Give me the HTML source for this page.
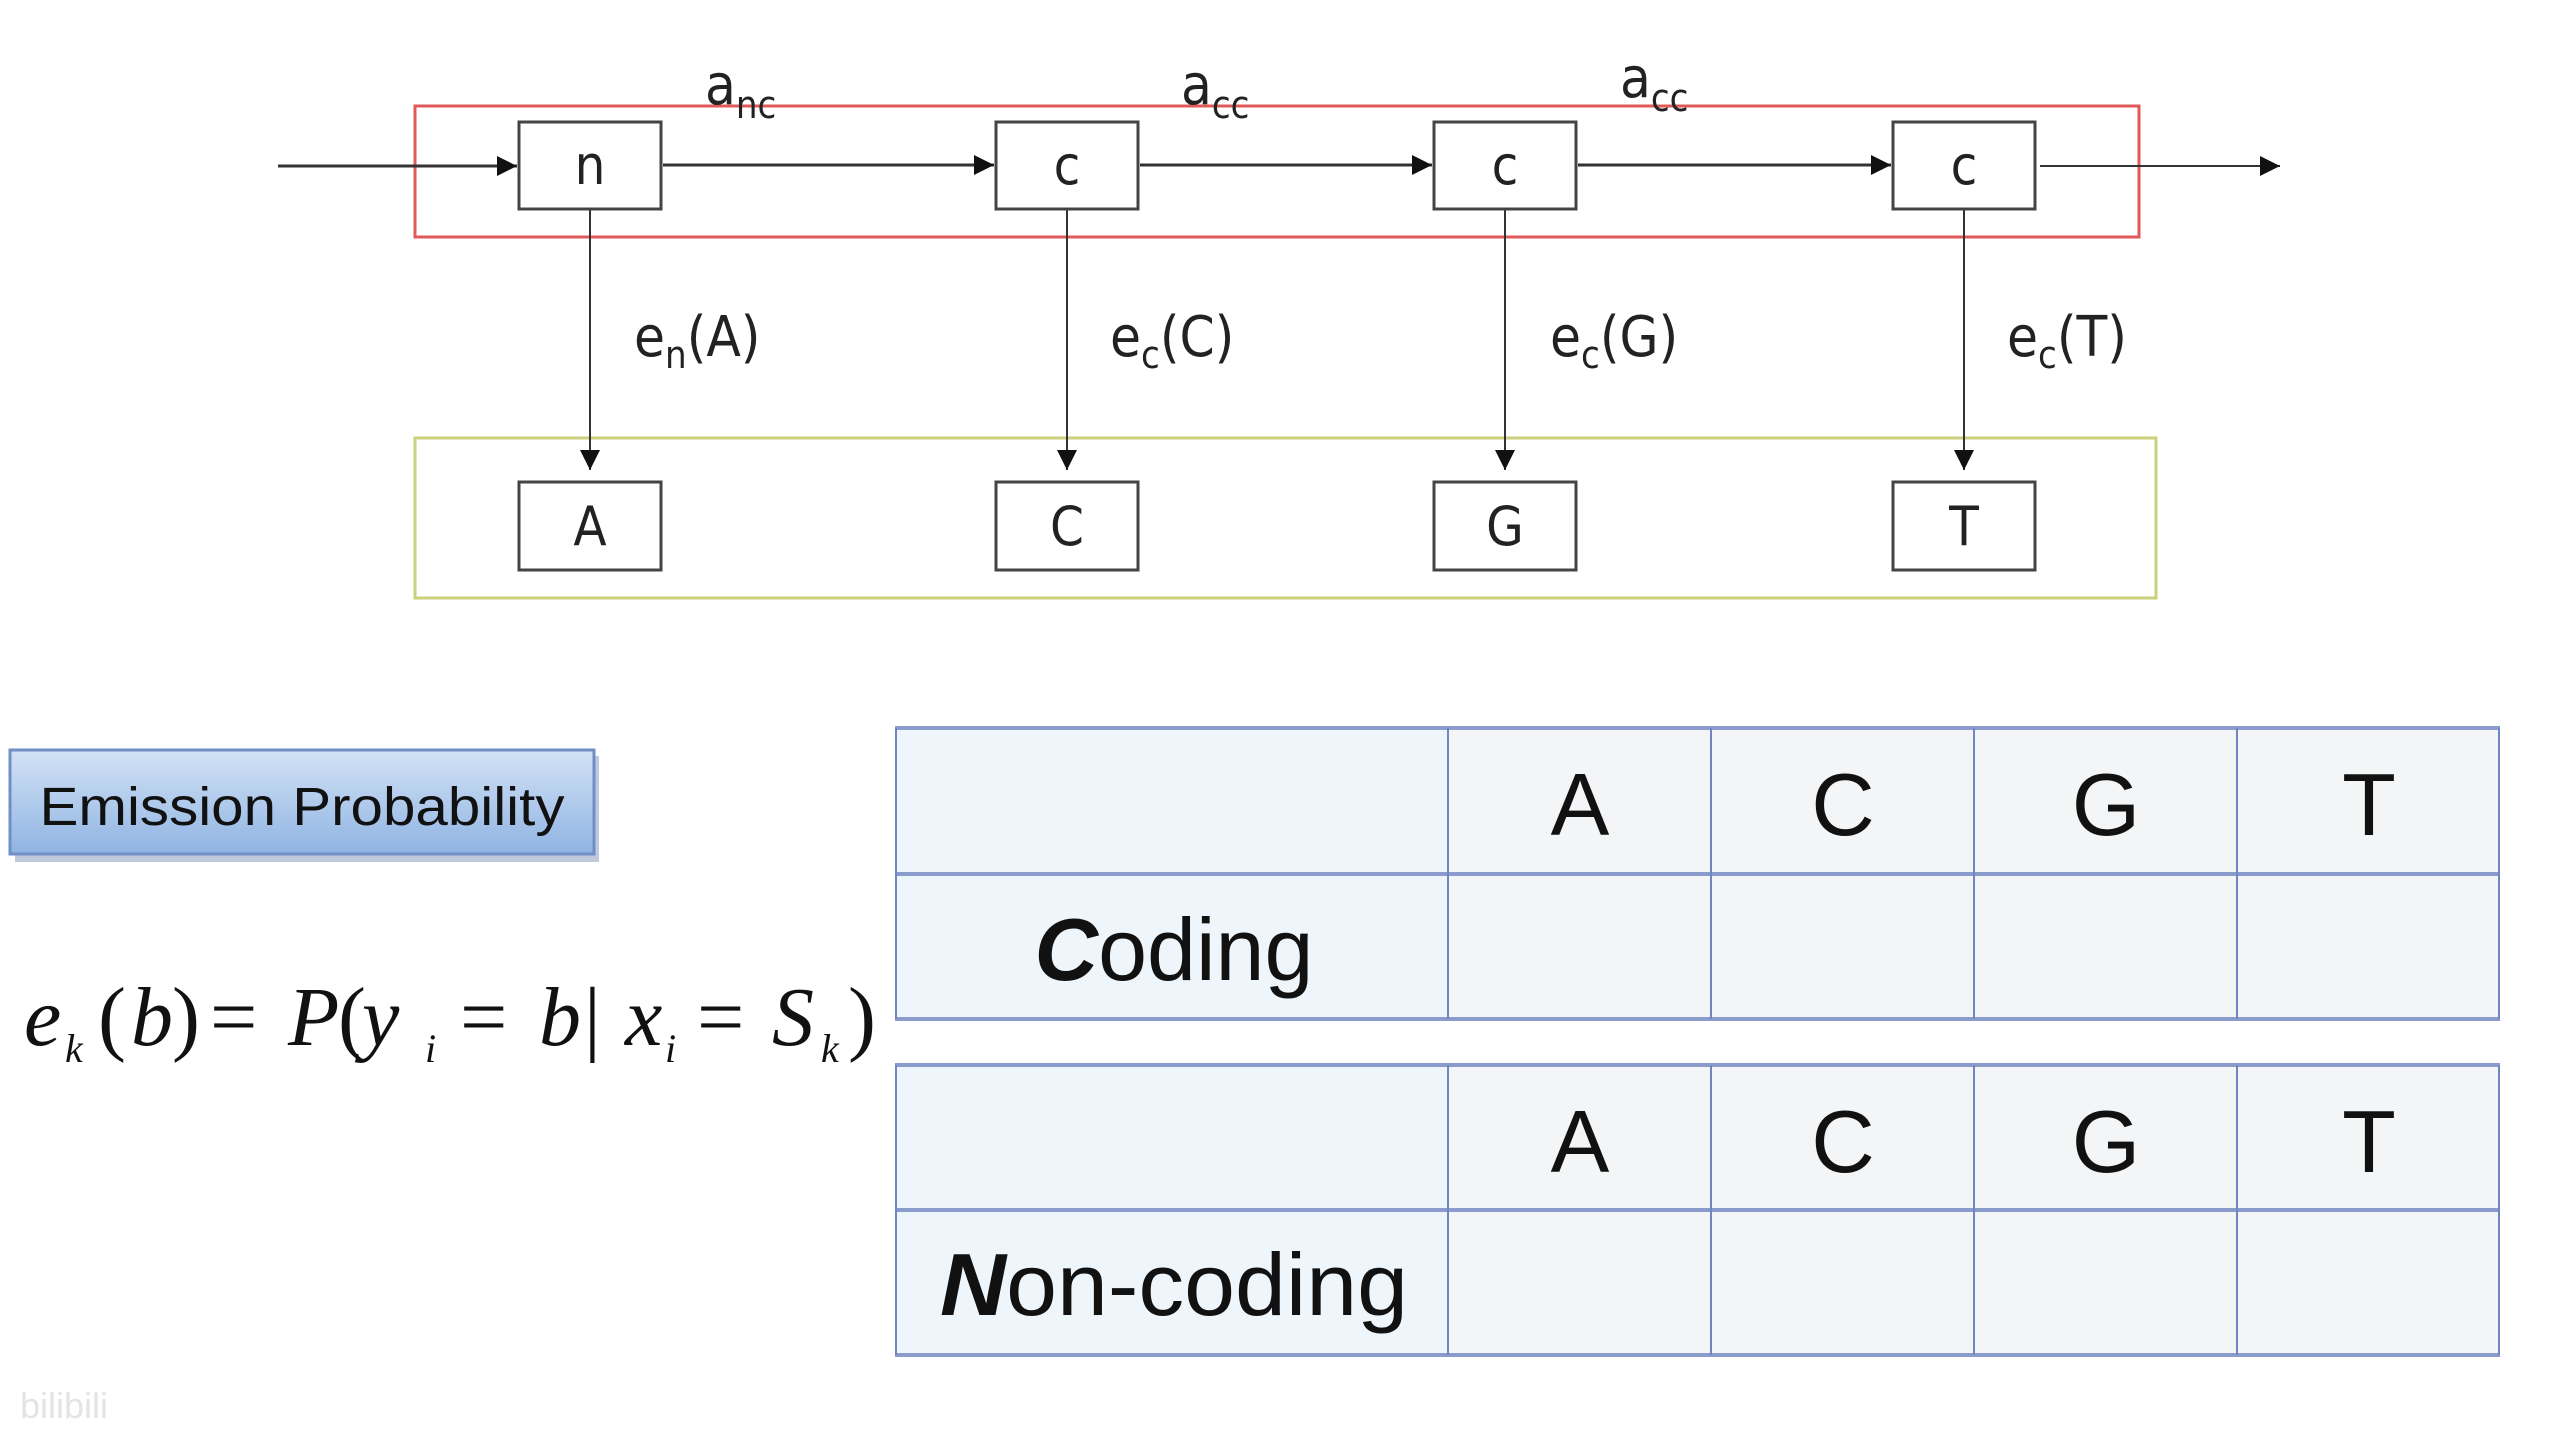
<!DOCTYPE html>
<html><head><meta charset="utf-8"><style>
html,body{margin:0;padding:0;background:#fff;}
svg{display:block}
</style></head><body>
<svg width="2560" height="1440" viewBox="0 0 2560 1440" xmlns="http://www.w3.org/2000/svg">
<defs>
<marker id="ar" viewBox="0 0 10 10" refX="10" refY="5" markerWidth="8" markerHeight="8" markerUnits="userSpaceOnUse" orient="auto">
<path d="M0,0 L10,5 L0,10 z" fill="#111"/></marker>
<marker id="ar2" viewBox="0 0 10 10" refX="10" refY="5" markerWidth="20" markerHeight="20" markerUnits="userSpaceOnUse" orient="auto">
<path d="M0,0 L10,5 L0,10 z" fill="#111"/></marker>
<linearGradient id="btn" x1="0" y1="0" x2="0" y2="1">
<stop offset="0" stop-color="#d3e2f5"/><stop offset="1" stop-color="#8fb4e3"/></linearGradient>
</defs>
<!-- red & yellow boxes -->
<rect x="415" y="106" width="1724" height="131" fill="none" stroke="#e05a5a" stroke-width="3"/>
<rect x="415" y="438" width="1741" height="160" fill="none" stroke="#c9d27a" stroke-width="3"/>
<!-- horizontal arrows -->
<g stroke="#333" stroke-width="3" fill="none">
<line x1="278" y1="166" x2="517" y2="166" marker-end="url(#ar2)"/>
<line x1="663" y1="165" x2="994" y2="165" marker-end="url(#ar2)"/>
<line x1="1140" y1="165" x2="1432" y2="165" marker-end="url(#ar2)"/>
<line x1="1578" y1="165" x2="1891" y2="165" marker-end="url(#ar2)"/>
<line x1="2040" y1="166" x2="2280" y2="166" stroke-width="2" marker-end="url(#ar2)"/>
</g>
<!-- vertical arrows -->
<g stroke="#333" stroke-width="2">
<line x1="590" y1="209" x2="590" y2="470" marker-end="url(#ar2)"/>
<line x1="1067" y1="209" x2="1067" y2="470" marker-end="url(#ar2)"/>
<line x1="1505" y1="209" x2="1505" y2="470" marker-end="url(#ar2)"/>
<line x1="1964" y1="209" x2="1964" y2="470" marker-end="url(#ar2)"/>
</g>
<!-- nodes -->
<g fill="#fff" stroke="#444" stroke-width="3">
<rect x="519" y="122" width="142" height="87"/>
<rect x="996" y="122" width="142" height="87"/>
<rect x="1434" y="122" width="142" height="87"/>
<rect x="1893" y="122" width="142" height="87"/>
<rect x="519" y="482" width="142" height="88"/>
<rect x="996" y="482" width="142" height="88"/>
<rect x="1434" y="482" width="142" height="88"/>
<rect x="1893" y="482" width="142" height="88"/>
</g>
<g font-family="DejaVu Sans Condensed, DejaVu Sans, sans-serif" font-size="54" fill="#222" text-anchor="middle">
<text x="590" y="184">n</text><text x="1067" y="184">c</text><text x="1505" y="184">c</text><text x="1964" y="184">c</text>
<text x="590" y="545">A</text><text x="1067" y="545">C</text><text x="1505" y="545">G</text><text x="1964" y="545">T</text>
</g>
<g font-family="DejaVu Sans Condensed, DejaVu Sans, sans-serif" font-size="56" fill="#222">
<text x="705" y="104">a<tspan font-size="38" dy="14">nc</tspan></text>
<text x="1181" y="104">a<tspan font-size="38" dy="14">cc</tspan></text>
<text x="1620" y="97">a<tspan font-size="38" dy="14">cc</tspan></text>
<text x="634" y="356">e<tspan font-size="38" dy="12">n</tspan><tspan dy="-12">(A)</tspan></text>
<text x="1110" y="356">e<tspan font-size="38" dy="12">c</tspan><tspan dy="-12">(C)</tspan></text>
<text x="1550" y="356">e<tspan font-size="38" dy="12">c</tspan><tspan dy="-12">(G)</tspan></text>
<text x="2007" y="356">e<tspan font-size="38" dy="12">c</tspan><tspan dy="-12">(T)</tspan></text>
</g>
<!-- button -->
<rect x="12" y="751" width="584" height="106" fill="#7f94b8" opacity="0.5" transform="translate(3,5)"/>
<rect x="10" y="750" width="584" height="104" fill="url(#btn)" stroke="#6f8fc6" stroke-width="3"/>
<text x="302" y="825" text-anchor="middle" font-family="Liberation Sans, sans-serif" font-size="54" fill="#111" textLength="525" lengthAdjust="spacingAndGlyphs">Emission Probability</text>
<!-- formula -->
<g font-family="Liberation Serif, serif" font-size="84" font-style="italic" fill="#111">
<text x="24" y="1045">e</text>
<text x="65" y="1062" font-size="40">k</text>
<text x="98" y="1045" font-style="normal">(</text>
<text x="131" y="1045">b</text>
<text x="172" y="1045" font-style="normal">)</text>
<text x="210" y="1045" font-style="normal">=</text>
<text x="288" y="1045">P</text>
<text x="338" y="1045" font-style="normal">(</text>
<text x="362" y="1045">y</text>
<text x="425" y="1062" font-size="40">i</text>
<text x="460" y="1045" font-style="normal">=</text>
<text x="539" y="1045">b</text>
<text x="584" y="1045" font-style="normal">|</text>
<text x="625" y="1045">x</text>
<text x="665" y="1062" font-size="40">i</text>
<text x="697" y="1045" font-style="normal">=</text>
<text x="772" y="1045">S</text>
<text x="821" y="1062" font-size="40">k</text>
<text x="848" y="1045" font-style="normal">)</text>
</g>
<!-- tables -->
<g>
<rect x="895" y="728" width="553" height="291" fill="#eef6fb"/>
<rect x="1448" y="728" width="1052" height="291" fill="#f3f5f6"/>
<rect x="895" y="1065" width="553" height="290" fill="#eef6fb"/>
<rect x="1448" y="1065" width="1052" height="290" fill="#f3f5f6"/>
</g>
<g stroke="#8a9ccc" stroke-width="4">
<line x1="895" y1="728" x2="2500" y2="728"/><line x1="895" y1="874" x2="2500" y2="874"/><line x1="895" y1="1019" x2="2500" y2="1019"/>
<line x1="895" y1="1065" x2="2500" y2="1065"/><line x1="895" y1="1210" x2="2500" y2="1210"/><line x1="895" y1="1355" x2="2500" y2="1355"/>
</g>
<g stroke="#6f86c0" stroke-width="2">
<line x1="896" y1="728" x2="896" y2="1019"/><line x1="1448" y1="728" x2="1448" y2="1019"/><line x1="1711" y1="728" x2="1711" y2="1019"/><line x1="1974" y1="728" x2="1974" y2="1019"/><line x1="2237" y1="728" x2="2237" y2="1019"/><line x1="2499" y1="728" x2="2499" y2="1019"/>
<line x1="896" y1="1065" x2="896" y2="1355"/><line x1="1448" y1="1065" x2="1448" y2="1355"/><line x1="1711" y1="1065" x2="1711" y2="1355"/><line x1="1974" y1="1065" x2="1974" y2="1355"/><line x1="2237" y1="1065" x2="2237" y2="1355"/><line x1="2499" y1="1065" x2="2499" y2="1355"/>
</g>
<g font-family="Liberation Sans, sans-serif" font-size="88" fill="#111" text-anchor="middle">
<text x="1580" y="835">A</text><text x="1843" y="835">C</text><text x="2106" y="835">G</text><text x="2369" y="835">T</text>
<text x="1580" y="1172">A</text><text x="1843" y="1172">C</text><text x="2106" y="1172">G</text><text x="2369" y="1172">T</text>
<text x="1174" y="980"><tspan font-weight="bold" font-style="italic">C</tspan>oding</text>
<text x="1174" y="1315" textLength="468" lengthAdjust="spacingAndGlyphs"><tspan font-weight="bold" font-style="italic">N</tspan>on-coding</text>
</g>
<text x="20" y="1418" font-family="Liberation Sans, sans-serif" font-size="36" fill="#e4e4e4">bilibili</text>
</svg>
</body></html>
